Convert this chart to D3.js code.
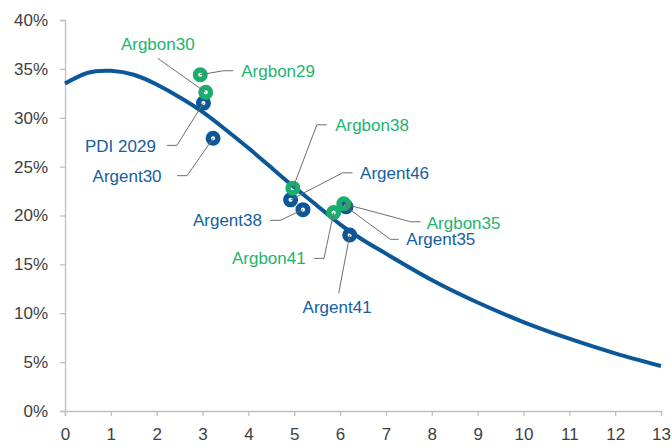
<!DOCTYPE html>
<html><head><meta charset="utf-8">
<script src="https://cdn.jsdelivr.net/npm/d3@7"></script>
<style>
html,body{margin:0;padding:0;background:#fff;}
svg{display:block;font-family:"Liberation Sans",Arial,sans-serif;}
</style></head>
<body><svg id="c" width="672" height="447"></svg>
<script>
// Fitted curve
const curveX = [0,0.5,1,1.5,2,2.5,3,3.5,4,4.5,5,5.5,6,6.5,7,8,9,10,11,12,13];
const curveY = [33.5,34.6,34.8,34.4,33.4,32.1,30.6,28.8,26.9,24.9,22.9,21.0,19.1,17.5,16.1,13.4,11.1,9.1,7.4,5.9,4.6];
// Bonds
const bondNames  = ["Argent30","PDI 2029","Argent46","Argent38","Argent35","Argent41","Argbon29","Argbon30","Argbon38","Argbon41","Argbon35"];
const bondDur    = [3.23,3.02,4.92,5.19,6.13,6.21,2.95,3.07,4.97,5.86,6.08];
const bondYield  = [27.9,31.5,21.6,20.6,20.9,18.0,34.4,32.6,22.8,20.3,21.2];
const bondSeries = ["Argent","Argent","Argent","Argent","Argent","Argent","Argbon","Argbon","Argbon","Argbon","Argbon"];
const xTicks = [0,1,2,3,4,5,6,7,8,9,10,11,12,13];
const yTicks = [0,5,10,15,20,25,30,35,40];

// label layout (pixel offsets from marker): elbow, end of horizontal, text anchor
const labelLayout = {
  "Argent30": {ex:-26, ey:37.4, hx:-36, tx:-51.5, ty:37.4, a:"end"},
  "PDI 2029": {ex:-26.6, ey:42.3, hx:-36.6, tx:-47.6, ty:42.3, a:"end"},
  "Argent46": {ex:52, ey:-27, hx:62, tx:69.5, ty:-27, a:"start"},
  "Argent38": {ex:-22.7, ey:10.7, hx:-32.7, tx:-41, ty:10.7, a:"end"},
  "Argent35": {ex:44.3, ey:32.6, hx:52.6, tx:60.3, ty:32.6, a:"start"},
  "Argent41": {ex:-11, ey:58.3, hx:-11, tx:-12.6, ty:72, a:"middle"},
  "Argbon29": {ex:23, ey:-4, hx:33, tx:41, ty:-4, a:"start"},
  "Argbon30": {ex:-48, ey:-34, hx:-48, tx:-48, ty:-48, a:"middle"},
  "Argbon38": {ex:24, ey:-63.3, hx:34, tx:42.3, ty:-63.3, a:"start"},
  "Argbon41": {ex:-9.7, ey:45.8, hx:-19.7, tx:-28, ty:45.8, a:"end"},
  "Argbon35": {ex:67, ey:18, hx:77, tx:83, ty:19, a:"start"}
};

const colors = {Argent:"#0B5797", Argbon:"#19AE6C"};
const textColors = {Argent:"#15609F", Argbon:"#1DB470"};

const svg = d3.select("#c");
const x = d3.scaleLinear().domain([0,13]).range([65,661]);
const y = d3.scaleLinear().domain([0,40]).range([411,20]);

const axisColor = "#BFBFBF";
const fs = 17;
// Y axis
const ya = svg.append("g").attr("transform","translate(65,0)")
  .call(d3.axisLeft(y).tickValues(yTicks).tickFormat(d=>d+"%").tickSize(5).tickPadding(12));
// X axis
const xa = svg.append("g").attr("transform","translate(0,411)")
  .call(d3.axisBottom(x).tickValues(xTicks).tickFormat(d=>d).tickSize(5).tickPadding(8));
[ya,xa].forEach(g=>{
  g.select(".domain").attr("stroke",axisColor).attr("stroke-width",1.3);
  g.selectAll(".tick line").attr("stroke",axisColor).attr("stroke-width",1.3);
  g.selectAll(".tick text").attr("fill","#404040").attr("font-size",fs).attr("font-family","Liberation Sans, Arial, sans-serif");
});
xa.selectAll(".tick text").attr("dy","0.95em");

// Curve
const curvePts = curveX.map((v,i)=>[v,curveY[i]]);
svg.append("path").datum(curvePts)
  .attr("fill","none").attr("stroke",colors.Argent).attr("stroke-width",4)
  .attr("d", d3.line().x(d=>x(d[0])).y(d=>y(d[1])).curve(d3.curveNatural));

const bonds = bondNames.map((n,i)=>({name:n, dx:bondDur[i], dy:bondYield[i], s:bondSeries[i]}));

// markers
svg.append("g").selectAll("circle").data(bonds).join("circle")
  .attr("cx",d=>x(d.dx)).attr("cy",d=>y(d.dy)).attr("r",4.8)
  .attr("fill","none").attr("stroke",d=>colors[d.s]).attr("stroke-width",5.4);

// leader lines
svg.append("g").selectAll("polyline").data(bonds).join("polyline")
  .attr("fill","none").attr("stroke","#6E6E6E").attr("stroke-width",1)
  .attr("points",d=>{
    const L = labelLayout[d.name]; const cx = x(d.dx), cy = y(d.dy);
    return [[cx,cy],[cx+L.ex,cy+L.ey],[cx+L.hx,cy+L.ey]].map(p=>p.join(",")).join(" ");
  });

// labels
svg.append("g").selectAll("text").data(bonds).join("text")
  .attr("x",d=>x(d.dx)+labelLayout[d.name].tx)
  .attr("y",d=>y(d.dy)+labelLayout[d.name].ty + fs*0.36)
  .attr("text-anchor",d=>labelLayout[d.name].a)
  .attr("font-size",fs)
  .attr("fill",d=>textColors[d.s])
  .text(d=>d.name);
</script></body></html>
